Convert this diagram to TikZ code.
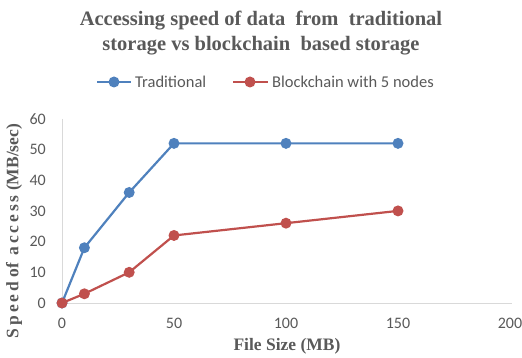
\documentclass[tikz,border=0pt]{standalone}
\usepackage{fontspec}
\setmainfont{Liberation Serif}
\newfontfamily\calib{Carlito}
\definecolor{txtgray}{HTML}{595959}
\definecolor{axgray}{HTML}{D9D9D9}
\definecolor{tradblue}{HTML}{4F81BD}
\definecolor{bcred}{HTML}{C0504D}
\begin{document}
\begin{tikzpicture}[x=1pt,y=-1pt,
  ticklab/.style={font=\calib\fontsize{16}{16}\selectfont, text=txtgray, inner sep=0pt},
  axtitle/.style={font=\bfseries\fontsize{17.5}{17.5}\selectfont, text=txtgray, inner sep=0pt},
  series/.style={line width=2.2pt, line join=round},
  dot/.style={circle, fill=#1, minimum size=11pt, inner sep=0pt},
  legtext/.style={font=\calib\fontsize{16.5}{16.5}\selectfont, text=txtgray, inner sep=0pt, anchor=west}]
\useasboundingbox (0,0) rectangle (522,358);
% title
\node[font=\bfseries\fontsize{20.5}{25}\selectfont, text=txtgray, align=center] (title) at (261,33)
  {Accessing speed of data\ \ from\ \ traditional\\storage vs blockchain\ \ based storage};
% legend
\coordinate (lb1) at (97,82); \coordinate (lb2) at (131,82);
\draw[series, tradblue] (lb1) -- (lb2);
\node[dot=tradblue] (lbm) at (114,82) {};
\node[legtext] (lbt) at (135,82) {Traditional};
\coordinate (lr1) at (233,82); \coordinate (lr2) at (268,82);
\draw[series, bcred] (lr1) -- (lr2);
\node[dot=bcred] (lrm) at (250,82) {};
\node[legtext] (lrt) at (272,82) {Blockchain with 5 nodes};
% axes
\coordinate (o) at (62,303);
\coordinate (ytop) at (62,119);
\coordinate (xend) at (512,303);
\draw[axgray, line width=1pt] (ytop) -- (o) -- (xend);
% y tick labels
\foreach \v in {0,10,...,60} {
  \node[ticklab, anchor=east] (y\v) at (46,{303-\v*3.07}) {\v};
}
% x tick labels
\foreach \v in {0,50,100,150,200} {
  \node[ticklab] (x\v) at ({62+\v*2.24},323) {\v};
}
% axis titles
\node[axtitle] (xt) at (287,346) {File Size (MB)};
\node[axtitle, rotate=90] (yt) at (14,231) {S\,p\,e\,e\,d of\, a\,c\,c\,e\,s\,s (MB/sec)};
% data
\foreach \n/\xv/\yv in {t0/0/0,t1/10/18,t2/30/36,t3/50/52,t4/100/52,t5/150/52,
                        b0/0/0,b1/10/3,b2/30/10,b3/50/22,b4/100/26,b5/150/30} {
  \coordinate (\n) at ({62+\xv*2.24},{303-\yv*3.07});
}
\draw[series, tradblue] (t0) -- (t1) -- (t2) -- (t3) -- (t4) -- (t5);
\foreach \n in {t0,t1,t2,t3,t4,t5} \node[dot=tradblue] (m\n) at (\n) {};
\draw[series, bcred] (b0) -- (b1) -- (b2) -- (b3) -- (b4) -- (b5);
\foreach \n in {b0,b1,b2,b3,b4,b5} \node[dot=bcred] (m\n) at (\n) {};
\end{tikzpicture}
\end{document}
